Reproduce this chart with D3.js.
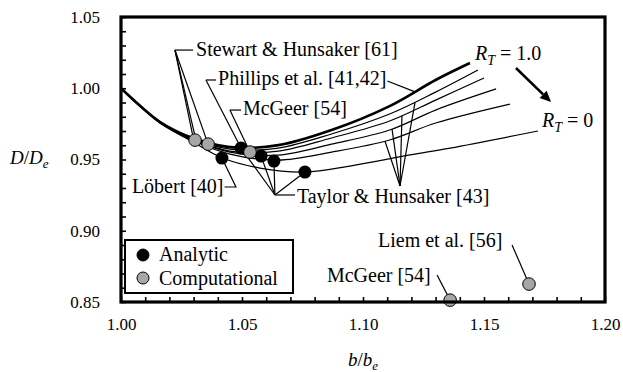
<!DOCTYPE html>
<html>
<head>
<meta charset="utf-8">
<script src="https://cdn.jsdelivr.net/npm/d3@7"></script>
<style>
  body { margin: 0; background: #fff; }
  svg text { font-family: "Liberation Serif", "Times New Roman", Times, "DejaVu Serif", serif; fill: #000; }
</style>
</head>
<body>
<div id="chart"></div>
<script>
// b/b_e sample points for the five upper curves (last value = end of each curve)
const bGrid = [1.000, 1.008, 1.016, 1.0285, 1.045, 1.065, 1.087, 1.111, 1.130];
const curveEndB = [1.1442, 1.1475, 1.1500, 1.1550, 1.1607];
// D/D_e, from R_T = 1.0 (thick) downwards
const dCurve1 = [1.000, 0.9875, 0.9765, 0.9658, 0.9587, 0.9601, 0.9707, 0.9875, 1.0058, 1.0177];
const dCurve2 = [1.000, 0.9875, 0.9764, 0.9654, 0.9573, 0.9580, 0.9679, 0.9819, 0.9973, 1.0128];
const dCurve3 = [1.000, 0.9875, 0.9763, 0.9650, 0.9559, 0.9559, 0.9651, 0.9770, 0.9917, 1.0072];
const dCurve4 = [1.000, 0.9874, 0.9762, 0.9646, 0.9552, 0.9531, 0.9608, 0.9707, 0.9847, 0.9995];
const dCurve5 = [1.000, 0.9873, 0.9760, 0.9642, 0.9538, 0.9496, 0.9552, 0.9637, 0.9756, 0.9889];
// R_T = 0 curve has its own samples
const bCurve0 = [1.000, 1.008, 1.016, 1.0285, 1.0417, 1.0574, 1.076, 1.0946, 1.1194, 1.136, 1.1723];
const dCurve0 = [1.000, 0.9872, 0.9757, 0.9635, 0.9512, 0.944, 0.9412, 0.9454, 0.9532, 0.958, 0.970];

// published optima
const analyticB = [1.0417, 1.0496, 1.0579, 1.0632, 1.0760];
const analyticD = [0.951, 0.958, 0.9524, 0.9489, 0.9412];
const computationalB = [1.0306, 1.0360, 1.0533, 1.1360, 1.1686];
const computationalD = [0.9636, 0.9608, 0.9552, 0.8513, 0.8626];

const xTicks = d3.range(100, 121).map(v => v / 100);
const yTicks = d3.range(85, 106).map(v => v / 100);
const majorX = [1.00, 1.05, 1.10, 1.15, 1.20];
const majorY = [0.85, 0.90, 0.95, 1.00, 1.05];

const W = 623, H = 372;
const margin = {top: 17, right: 18, bottom: 70, left: 121};
const serif = '"Liberation Serif", "Times New Roman", Times, "DejaVu Serif", serif';
const fs = 20;      // annotation / legend text
const tickFs = 17;  // tick labels

const svg = d3.select("#chart").append("svg")
    .attr("width", W)
    .attr("height", H)
    .attr("font-family", serif);

const x = d3.scaleLinear().domain([1.0, 1.2]).range([margin.left, W - margin.right]);
const y = d3.scaleLinear().domain([0.85, 1.05]).range([H - margin.bottom, margin.top]);

const line = d3.line()
    .x(d => x(d[0]))
    .y(d => y(d[1]))
    .curve(d3.curveCatmullRom.alpha(0.5));
const straight = d3.line().x(d => x(d[0])).y(d => y(d[1]));

// curves
const upper = [dCurve1, dCurve2, dCurve3, dCurve4, dCurve5].map((ds, i) =>
    ds.map((d, j) => [j < bGrid.length ? bGrid[j] : curveEndB[i], d]));
const allCurves = upper.concat([bCurve0.map((b, j) => [b, dCurve0[j]])]);

const curvePaths = svg.append("g").selectAll("path")
    .data(allCurves)
    .enter().append("path")
    .attr("d", line)
    .attr("fill", "none")
    .attr("stroke", "#000")
    .attr("stroke-width", (d, i) => i === 0 ? 2.6 : 1.25)
    .nodes();

// find the point of a curve at a given b/b_e
function onCurve(idx, b) {
    const node = curvePaths[idx];
    const px = x(b);
    let lo = 0, hi = node.getTotalLength();
    for (let k = 0; k < 30; k++) {
        const mid = (lo + hi) / 2;
        if (node.getPointAtLength(mid).x < px) lo = mid; else hi = mid;
    }
    const p = node.getPointAtLength(lo);
    return [x.invert(p.x), y.invert(p.y)];
}

// leader lines
const leaders = svg.append("g")
    .attr("fill", "none")
    .attr("stroke", "#000")
    .attr("stroke-width", 1.2);

function leader(pts) {
    leaders.append("path").attr("d", straight(pts));
}

// Stewart & Hunsaker
const stewartElbow = [1.0223, 1.0268];
leader([stewartElbow, [1.0298, 1.0268]]);
leader([stewartElbow, [1.0300, 0.9640]]);
leader([stewartElbow, [1.0310, 0.9634]]);
leader([stewartElbow, [1.0360, 0.9608]]);
// Phillips et al.
const phillipsElbow = [1.0351, 1.0058];
leader([phillipsElbow, [1.0393, 1.0058]]);
leader([phillipsElbow, [analyticB[1], analyticD[1]]]);
// McGeer (top)
const mcgeerElbow = [1.0450, 0.9847];
leader([mcgeerElbow, [1.0496, 0.9847]]);
leader([mcgeerElbow, [computationalB[2], computationalD[2]]]);
// Taylor & Hunsaker
const taylorElbow = [1.0636, 0.9251];
leader([taylorElbow, [1.0719, 0.9251]]);
[1, 2, 3, 4].forEach(i => leader([taylorElbow, [analyticB[i], analyticD[i]]]));
const fanApex = [1.1153, 0.9314];
[[4, 1.1091], [3, 1.1120], [2, 1.1161], [1, 1.1215]].forEach(([c, b]) =>
    leader([fanApex, onCurve(c, b)]));
// Liem et al. and McGeer (bottom)
leader([[1.1616, 0.8900], [computationalB[4], computationalD[4]]]);
leader([[1.1306, 0.8689], [computationalB[3], computationalD[3]]]);

// points
svg.append("g").selectAll("circle")
    .data(analyticB.map((b, i) => [b, analyticD[i]]))
    .enter().append("circle")
    .attr("cx", d => x(d[0]))
    .attr("cy", d => y(d[1]))
    .attr("r", 6.5)
    .attr("fill", "#000");

svg.append("g").selectAll("circle")
    .data(computationalB.map((b, i) => [b, computationalD[i]]))
    .enter().append("circle")
    .attr("cx", d => x(d[0]))
    .attr("cy", d => y(d[1]))
    .attr("r", 6.3)
    .attr("fill", "#a6a6a6")
    .attr("stroke", "#000")
    .attr("stroke-width", 1);

// labels
function label(txt, at) {
    return svg.append("text")
        .attr("x", x(at[0]))
        .attr("y", y(at[1]))
        .style("font-family", serif)
        .style("font-size", fs + "px")
        .text(txt);
}
label("Stewart & Hunsaker [61]", [1.0310, 1.0226]);
const phillips = label("Phillips et al. [41,42]", [1.0401, 1.0023]);
label("McGeer [54]", [1.0504, 0.9812]);
label("Taylor & Hunsaker [43]", [1.0727, 0.9195]);
const lobert = label("Löbert [40]", [1.0045, 0.9265]);
label("Liem et al. [56]", [1.1062, 0.8886]);
label("McGeer [54]", [1.0851, 0.8640]);

// leaders that start at the end of a label
const pb = phillips.node().getBBox();
leader([[x.invert(pb.x + pb.width + 1), y.invert(y(1.0023) - 4)], onCurve(0, 1.1215)]);
const lb = lobert.node().getBBox();
const lobertElbow = [1.0475, y.invert(y(0.9265) - 6)];
leader([[x.invert(lb.x + lb.width + 1), lobertElbow[1]], lobertElbow, [analyticB[0], analyticD[0]]]);

// R_T labels
function rtLabel(val, at) {
    const t = svg.append("text")
        .attr("x", x(at[0]))
        .attr("y", y(at[1]))
        .style("font-family", serif)
        .style("font-size", fs + "px");
    t.append("tspan").style("font-style", "italic").text("R");
    t.append("tspan").style("font-style", "italic").style("font-size", "14px").attr("dy", 5).text("T");
    t.append("tspan").attr("dy", -5).text(" = " + val);
}
rtLabel("1.0", [1.1463, 1.0198]);
rtLabel("0", [1.1740, 0.9728]);

// arrow from R_T = 1.0 to R_T = 0
const a0 = [x(1.1632), y(1.0142)], a1 = [x(1.1777), y(0.9903)];
const ang = Math.atan2(a1[1] - a0[1], a1[0] - a0[0]);
const headLen = 11, headW = 5;
const base = [a1[0] - headLen * Math.cos(ang), a1[1] - headLen * Math.sin(ang)];
svg.append("line")
    .attr("x1", a0[0]).attr("y1", a0[1])
    .attr("x2", base[0]).attr("y2", base[1])
    .attr("stroke", "#000").attr("stroke-width", 2.6);
svg.append("path")
    .attr("d", "M" + a1 + "L" + [base[0] + headW * Math.sin(ang), base[1] - headW * Math.cos(ang)] +
        "L" + [base[0] - headW * Math.sin(ang), base[1] + headW * Math.cos(ang)] + "Z")
    .attr("fill", "#000");

// legend
const lg = svg.append("g");
lg.append("rect")
    .attr("x", 125).attr("y", 240)
    .attr("width", 168).attr("height", 53)
    .attr("fill", "#fff")
    .attr("stroke", "#000")
    .attr("stroke-width", 2);
[["Analytic", "#000", 255, 261], ["Computational", "#a6a6a6", 278, 285]].forEach(([name, col, cy, by]) => {
    lg.append("circle")
        .attr("cx", 143).attr("cy", cy).attr("r", 6)
        .attr("fill", col)
        .attr("stroke", "#000").attr("stroke-width", 1);
    lg.append("text")
        .attr("x", 159).attr("y", by)
        .style("font-family", serif)
        .style("font-size", fs + "px")
        .text(name);
});

// axes (inward minor ticks every 0.01)
const xAxis = d3.axisBottom(x)
    .tickValues(xTicks)
    .tickSizeInner(-5)
    .tickSizeOuter(0)
    .tickPadding(16)
    .tickFormat(d => majorX.some(m => Math.abs(m - d) < 1e-9) ? d3.format(".2f")(d) : "");
const yAxis = d3.axisLeft(y)
    .tickValues(yTicks)
    .tickSizeInner(-5)
    .tickSizeOuter(0)
    .tickPadding(21)
    .tickFormat(d => majorY.some(m => Math.abs(m - d) < 1e-9) ? d3.format(".2f")(d) : "");

const gx = svg.append("g")
    .attr("transform", "translate(0," + (H - margin.bottom) + ")")
    .call(xAxis);
const gy = svg.append("g")
    .attr("transform", "translate(" + margin.left + ",0)")
    .call(yAxis);
[gx, gy].forEach(g => {
    g.attr("font-family", serif);
    g.select(".domain").remove();
    g.selectAll(".tick line").attr("stroke", "#000").attr("stroke-width", 1.6);
    g.selectAll(".tick text")
        .style("font-family", serif)
        .style("font-size", tickFs + "px")
        .attr("fill", "#000");
});

// frame
svg.append("rect")
    .attr("x", margin.left)
    .attr("y", margin.top)
    .attr("width", W - margin.left - margin.right)
    .attr("height", H - margin.top - margin.bottom)
    .attr("fill", "none")
    .attr("stroke", "#000")
    .attr("stroke-width", 3.2);

// axis titles
const yt = svg.append("text")
    .attr("x", 10).attr("y", 164)
    .style("font-family", serif)
    .style("font-size", "19px");
yt.append("tspan").style("font-style", "italic").text("D");
yt.append("tspan").text("/");
yt.append("tspan").style("font-style", "italic").text("D");
yt.append("tspan").style("font-style", "italic").style("font-size", "13px").attr("dy", 4).text("e");

const xt = svg.append("text")
    .attr("x", x(1.10)).attr("y", 366)
    .attr("text-anchor", "middle")
    .style("font-family", serif)
    .style("font-size", "19px");
xt.append("tspan").style("font-style", "italic").text("b");
xt.append("tspan").text("/");
xt.append("tspan").style("font-style", "italic").text("b");
xt.append("tspan").style("font-style", "italic").style("font-size", "13px").attr("dy", 4).text("e");
</script>
</body>
</html>
